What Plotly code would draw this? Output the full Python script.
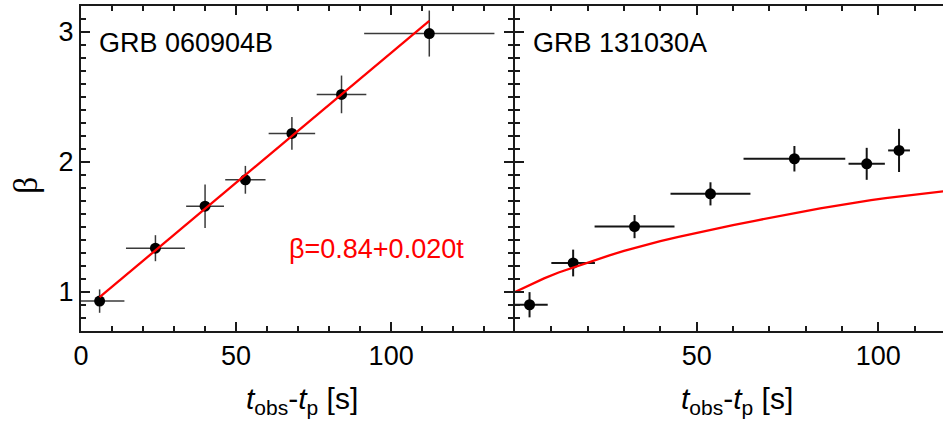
import plotly.graph_objects as go

# ---- Data: GRB 060904B (left panel) ----
t1 = [6, 24, 40, 53, 68, 84, 112.3]
beta1 = [0.93, 1.337, 1.66, 1.863, 2.22, 2.52, 2.988]
t1_err = [8, 9.5, 6.1, 6.5, 7.5, 8, 21]
beta1_err = [0.09, 0.10, 0.167, 0.107, 0.126, 0.145, 0.177]
fit_intercept = 0.84
fit_slope = 0.020
fit_t = [6, 112.3]

# ---- Data: GRB 131030A (right panel) ----
t2 = [4, 16, 32.9, 53.8, 76.9, 96.8, 105.7]
beta2 = [0.902, 1.223, 1.503, 1.755, 2.025, 1.986, 2.089]
t2_err = [5, 6, 11, 11, 14, 5, 3]
beta2_err = [0.097, 0.103, 0.089, 0.089, 0.098, 0.123, 0.166]
model2_t = [0, 4, 8, 12, 17, 21, 26, 30, 35, 40, 45, 50, 55, 60, 66, 70, 75, 80, 84, 88, 93, 98, 102, 110, 118]
model2_beta = [1.0, 1.055, 1.105, 1.150, 1.198, 1.235, 1.282, 1.316, 1.356, 1.392, 1.424, 1.456, 1.487,
               1.515, 1.548, 1.571, 1.598, 1.623, 1.643, 1.662, 1.685, 1.706, 1.722, 1.749, 1.775]

labels = ["GRB 060904B", "GRB 131030A"]
fit_label = "β=0.84+0.020t"
xtitle = "<i>t</i><sub>obs</sub>-<i>t</i><sub>p</sub> [s]"
ytitle = "β"

FONT = "Liberation Sans, Arial, sans-serif"
AX = "#1a1a1a"

fig = go.Figure()

fig.add_trace(go.Scatter(
    x=t1, y=beta1, mode="markers", xaxis="x", yaxis="y",
    marker=dict(color="black", size=11),
    error_x=dict(type="data", array=t1_err, color="#3a3a3a", thickness=1.5, width=0),
    error_y=dict(type="data", array=beta1_err, color="#3a3a3a", thickness=1.5, width=0),
    showlegend=False))
fig.add_trace(go.Scatter(
    x=fit_t, y=[fit_intercept + fit_slope * t for t in fit_t], mode="lines",
    xaxis="x", yaxis="y", line=dict(color="#ff0000", width=2.3), showlegend=False))

fig.add_trace(go.Scatter(
    x=t2, y=beta2, mode="markers", xaxis="x2", yaxis="y2",
    marker=dict(color="black", size=11),
    error_x=dict(type="data", array=t2_err, color="#151515", thickness=2, width=0),
    error_y=dict(type="data", array=beta2_err, color="#151515", thickness=2, width=0),
    showlegend=False))
fig.add_trace(go.Scatter(
    x=model2_t, y=model2_beta, mode="lines",
    xaxis="x2", yaxis="y2", line=dict(color="#ff0000", width=2.3), showlegend=False))

axis_common = dict(
    showline=True, linecolor=AX, linewidth=2, ticks="inside", ticklen=9,
    tickwidth=2, tickcolor=AX, showgrid=False, zeroline=False,
    tickfont=dict(family=FONT, size=27, color="black"),
)

fig.update_layout(
    width=943, height=430,
    margin=dict(l=81, r=0, t=6, b=99),
    plot_bgcolor="white", paper_bgcolor="white",
    font=dict(family=FONT, color="black"),
    xaxis=dict(domain=[0, 0.5012], range=[0, 139.3], tickvals=[0, 50, 100],
               mirror="ticks", anchor="y",
               minor=dict(dtick=10, tick0=0, ticks="inside", ticklen=5,
                          tickwidth=1.5, tickcolor=AX),
               **axis_common),
    yaxis=dict(domain=[0, 1], range=[0.7, 3.2], tickvals=[1, 2, 3],
               mirror="ticks", anchor="x",
               minor=dict(dtick=0.1, tick0=0, ticks="inside", ticklen=5,
                          tickwidth=1.5, tickcolor=AX),
               **axis_common),
    xaxis2=dict(domain=[0.5035, 1], range=[0, 117.8], tickvals=[50, 100],
                mirror="ticks", anchor="y2",
                minor=dict(dtick=10, tick0=0, ticks="inside", ticklen=5,
                           tickwidth=1.5, tickcolor=AX),
                **axis_common),
    yaxis2=dict(domain=[0, 1], range=[0.7, 3.2], tickvals=[1, 2, 3],
                mirror=False, anchor="x2", showticklabels=False,
                minor=dict(dtick=0.1, tick0=0, ticks="inside", ticklen=5,
                           tickwidth=1.5, tickcolor=AX),
                **axis_common),
)

ann_font = dict(family=FONT, size=27, color="black")
fig.add_annotation(x=5.2, y=2.915, xref="x", yref="y", text=labels[0],
                   showarrow=False, xanchor="left", yanchor="middle", font=ann_font)
fig.add_annotation(x=4.3, y=2.915, xref="x2", yref="y2", text=labels[1],
                   showarrow=False, xanchor="left", yanchor="middle", font=ann_font)
fig.add_annotation(x=66.3, y=1.33, xref="x", yref="y", text=fit_label,
                   showarrow=False, xanchor="left", yanchor="middle",
                   font=dict(family=FONT, size=27, color="#ff0000"))
fig.add_annotation(x=(302 - 81) / 862, y=(331 - 400) / 325, xref="paper", yref="paper",
                   text=xtitle, showarrow=False, xanchor="center", yanchor="middle",
                   font=dict(family=FONT, size=30, color="black"))
fig.add_annotation(x=(737 - 81) / 862, y=(331 - 400) / 325, xref="paper", yref="paper",
                   text=xtitle, showarrow=False, xanchor="center", yanchor="middle",
                   font=dict(family=FONT, size=30, color="black"))
fig.add_annotation(x=(25 - 81) / 862, y=(331 - 186) / 325, xref="paper", yref="paper",
                   text=ytitle, showarrow=False, xanchor="center", yanchor="middle",
                   textangle=-90,
                   font=dict(family="Liberation Serif, serif", size=34, color="black"))

fig.write_html("out.html")
